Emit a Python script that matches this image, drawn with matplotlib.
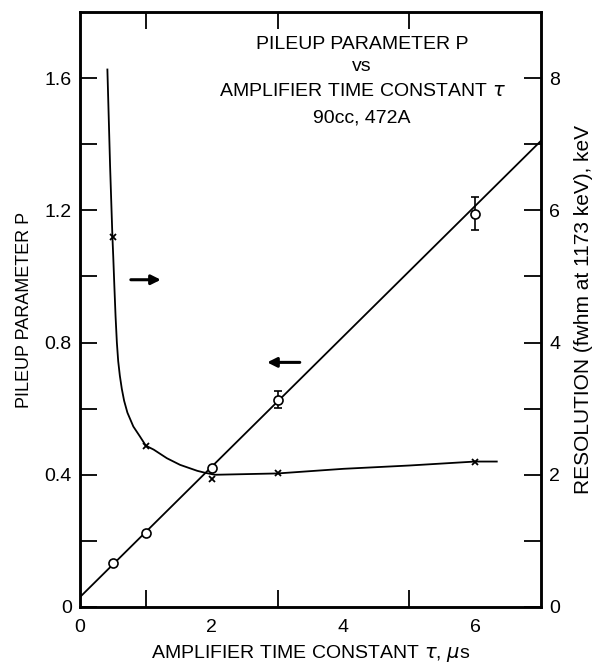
import matplotlib
matplotlib.use("Agg")
import matplotlib.pyplot as plt
import numpy as np

plt.rcParams['font.family'] = ['Liberation Sans Narrow', 'Liberation Sans', 'DejaVu Sans']
plt.rcParams['mathtext.fontset'] = 'dejavusans'

# pileup parameter P (left axis), measured points
tau_p = [0.5, 1.0, 2.0, 3.0, 6.0]
pileup = [0.133, 0.224, 0.42, 0.627, 1.19]
pileup_err = [0.0, 0.0, 0.0, 0.025, 0.05]
# straight line drawn through the P points
fit_tau = [0.0, 7.0]
fit_p = [0.03, 1.41]

# resolution (right axis, keV), measured points
tau_r = [0.5, 1.0, 2.0, 3.0, 6.0]
resol = [5.6, 2.44, 1.94, 2.02, 2.2]
# hand drawn curve through the resolution points
curve_tau = [0.416, 0.457, 0.492, 0.505, 0.522, 0.54, 0.56, 0.58, 0.605,
             0.635, 0.67, 0.72, 0.81, 0.91, 1.0, 1.12, 1.32, 1.52, 1.78,
             1.90, 2.05, 3.0, 4.0, 5.0, 6.0, 6.33]
curve_res = [8.13, 6.67, 5.61, 5.3, 4.85, 4.4, 4.0, 3.72, 3.5,
             3.3, 3.12, 2.94, 2.73, 2.58, 2.44, 2.38, 2.25, 2.15, 2.06,
             2.03, 2.0, 2.02, 2.09, 2.14, 2.2, 2.2]

fig = plt.figure(figsize=(5.97, 6.66), dpi=100)
ax = fig.add_axes([0.134, 0.0886, 0.772, 0.8934])
ax2 = ax.twinx()

# P line + points
ax.plot(fit_tau, fit_p, color='black', lw=1.3, zorder=2)
ax.errorbar(tau_p, pileup, yerr=pileup_err, fmt='o', ms=6.5, mfc='white',
            mec='black', mew=1.2, ecolor='black', elinewidth=1.2, capsize=3,
            zorder=3)

# resolution curve + points
ax2.plot(curve_tau, curve_res, color='black', lw=1.3, zorder=2)
ax2.plot(tau_r, resol, 'x', color='black', ms=4.5, mew=1.3, zorder=3)

ax.set_xlim(0, 7)
ax.set_ylim(0, 1.8)
ax2.set_ylim(0, 9)

ax.set_xticks([0, 2, 4, 6])
ax.set_xticks([1, 2, 3, 4, 5, 6], minor=True)
ax.set_yticks([0, 0.4, 0.8, 1.2, 1.6])
ax.set_yticklabels(['0', '0.4', '0.8', '1.2', '1.6'])
ax.set_yticks([0.2, 0.6, 1.0, 1.4], minor=True)
ax2.set_yticks([0, 2, 4, 6, 8])
ax2.set_yticks([1, 3, 5, 7], minor=True)

ax.tick_params(axis='both', which='both', direction='in', length=12, width=1.3,
               labelsize=14, top=True, pad=6)
ax.tick_params(axis='x', which='major', length=0, pad=9)
ax.tick_params(axis='x', which='minor', top=True, bottom=True, length=12)
ax2.tick_params(axis='y', which='both', direction='in', length=12, width=1.3,
                labelsize=14, pad=6)

for a in (ax, ax2):
    for s in a.spines.values():
        s.set_linewidth(1.8)

ax.set_xlabel(r'AMPLIFIER TIME CONSTANT $\tau$, $\mu$s', fontsize=14, labelpad=5)
ax.set_ylabel('PILEUP PARAMETER P', fontsize=13, labelpad=8)
ax2.set_ylabel('RESOLUTION (fwhm at 1173 keV), keV', fontsize=15, labelpad=10)

# title block inside the plot
tx = 0.612
ax.text(tx, 0.946, 'PILEUP PARAMETER P', transform=ax.transAxes, ha='center', va='center', fontsize=14)
ax.text(tx, 0.909, 'vs', transform=ax.transAxes, ha='center', va='center', fontsize=14)
ax.text(tx, 0.866, r'AMPLIFIER TIME CONSTANT $\tau$', transform=ax.transAxes, ha='center', va='center', fontsize=14)
ax.text(tx, 0.822, '90cc, 472A', transform=ax.transAxes, ha='center', va='center', fontsize=14)

# arrows showing which axis each curve belongs to
ax.annotate('', xy=(1.27, 0.99), xytext=(0.73, 0.99),
            arrowprops=dict(arrowstyle='-|>', color='black', lw=2.2, mutation_scale=14))
ax.annotate('', xy=(2.8, 0.74), xytext=(3.38, 0.74),
            arrowprops=dict(arrowstyle='-|>', color='black', lw=2.2, mutation_scale=14))

fig.savefig('out.png', dpi=100)
